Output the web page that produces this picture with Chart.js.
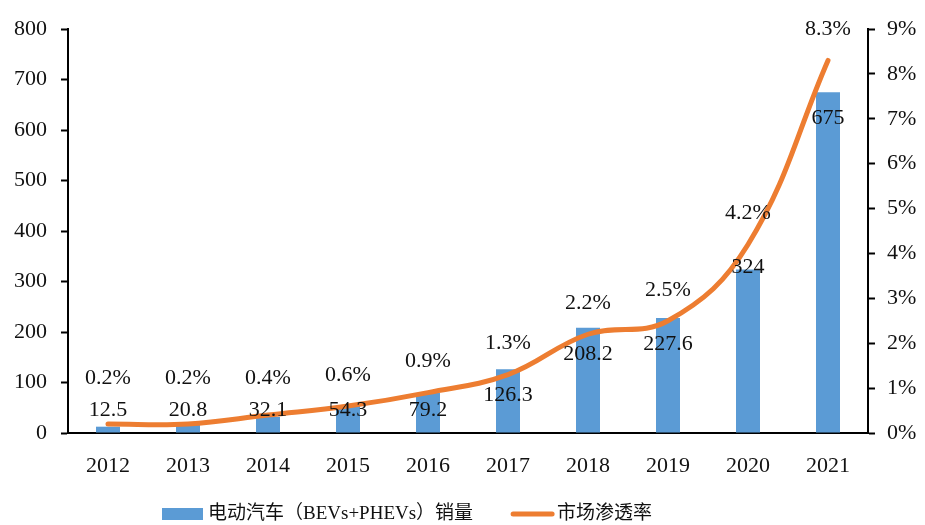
<!DOCTYPE html>
<html><head><meta charset="utf-8">
<script src="https://cdn.jsdelivr.net/npm/chart.js@4.4.0/dist/chart.umd.min.js"></script>
<style>html,body{margin:0;padding:0;background:#fff}#wrap{width:925px;height:525px}</style>
</head><body><div id="wrap"><canvas id="c" width="925" height="525"></canvas></div>
<script>
const years = ['2012','2013','2014','2015','2016','2017','2018','2019','2020','2021'];
const evSales = [12.5, 20.8, 32.1, 54.3, 79.2, 126.3, 208.2, 227.6, 324, 675];
const penetration = [0.2, 0.2, 0.4, 0.6, 0.9, 1.3, 2.2, 2.5, 4.2, 8.3];
const salesLabels = ['12.5','20.8','32.1','54.3','79.2','126.3','208.2','227.6','324','675'];
const rateLabels = ['0.2%','0.2%','0.4%','0.6%','0.9%','1.3%','2.2%','2.5%','4.2%','8.3%'];
const leftTicks = [0,100,200,300,400,500,600,700,800];
const rightTicks = [0,1,2,3,4,5,6,7,8,9];
const seriesNames = ['电动汽车（BEVs+PHEVs）销量','市场渗透率'];

const BLUE = '#5B9BD5', ORANGE = '#ED7D31';
const SERIF = '"Liberation Serif","DejaVu Serif",serif';
const LEG = '"Liberation Serif","Noto Sans CJK SC",serif';
const barLabelMode = ['in','in','in','in','in','in','in','in','edge','in'];

const labelPlugin = {
  id: 'labels',
  afterDatasetsDraw(chart) {
    const ctx = chart.ctx;
    const base = chart.chartArea.bottom;
    ctx.save();
    ctx.fillStyle = '#111';
    ctx.font = '22px ' + SERIF;
    ctx.textAlign = 'center';
    ctx.textBaseline = 'middle';
    chart.getDatasetMeta(0).data.forEach((el, i) => {
      let y;
      if (barLabelMode[i] === 'edge') y = el.y - 2;
      else y = Math.min(el.y + 26, base - 23);
      ctx.fillText(salesLabels[i], el.x, y);
    });
    chart.getDatasetMeta(1).data.forEach((el, i) => {
      const y = Math.min(el.y - 31, base - 55);
      ctx.fillText(rateLabels[i], el.x, y);
    });
    ctx.restore();
  }
};

const legendPlugin = {
  id: 'customLegend',
  afterDraw(chart) {
    const ctx = chart.ctx;
    ctx.save();
    ctx.font = '19px ' + LEG;
    ctx.textBaseline = 'middle';
    const y = 514;
    let x = 162;
    ctx.fillStyle = BLUE;
    ctx.fillRect(x, y - 6, 41, 12);
    x += 46;
    ctx.fillStyle = '#111';
    ctx.fillText(seriesNames[0], x, y);
    x += ctx.measureText(seriesNames[0]).width + 38;
    ctx.strokeStyle = ORANGE;
    ctx.lineWidth = 5;
    ctx.lineCap = 'round';
    ctx.beginPath();
    ctx.moveTo(x + 2, y);
    ctx.lineTo(x + 41, y);
    ctx.stroke();
    x += 46;
    ctx.fillText(seriesNames[1], x, y);
    ctx.restore();
  }
};

new Chart(document.getElementById('c'), {
  data: {
    labels: years,
    datasets: [
      { type: 'bar', label: seriesNames[0], data: evSales, yAxisID: 'y',
        backgroundColor: BLUE, barPercentage: 0.3, categoryPercentage: 1, order: 2 },
      { type: 'line', label: seriesNames[1], data: penetration, yAxisID: 'y2',
        borderColor: ORANGE, borderWidth: 5, pointRadius: 0, tension: 0.4,
        borderCapStyle: 'round', order: 1 }
    ]
  },
  options: {
    responsive: false,
    animation: false,
    layout: { padding: { top: 29, left: 0, right: 0, bottom: 32 } },
    plugins: { legend: { display: false }, tooltip: { enabled: false } },
    scales: {
      x: {
        afterFit: s => { s.height = 60; },
        grid: { display: false },
        border: { display: true, color: '#000', width: 2 },
        ticks: { color: '#111', font: { family: SERIF, size: 22 }, padding: 12 }
      },
      y: {
        position: 'left', min: 0, max: 800,
        afterFit: s => { s.width = 68; },
        afterBuildTicks: s => { s.ticks = leftTicks.map(v => ({ value: v })); },
        grid: { drawOnChartArea: false, drawTicks: true, tickLength: 7, tickColor: '#000', tickWidth: 2 },
        border: { display: true, color: '#000', width: 2 },
        ticks: { color: '#111', font: { family: SERIF, size: 22 }, padding: 14 }
      },
      y2: {
        position: 'right', min: 0, max: 9,
        afterFit: s => { s.width = 57; },
        afterBuildTicks: s => { s.ticks = rightTicks.map(v => ({ value: v })); },
        grid: { drawOnChartArea: false, drawTicks: true, tickLength: 7, tickColor: '#000', tickWidth: 2 },
        border: { display: true, color: '#000', width: 2 },
        ticks: { color: '#111', font: { family: SERIF, size: 22 }, padding: 12, callback: v => v + '%' }
      }
    }
  },
  plugins: [labelPlugin, legendPlugin]
});
</script></body></html>
